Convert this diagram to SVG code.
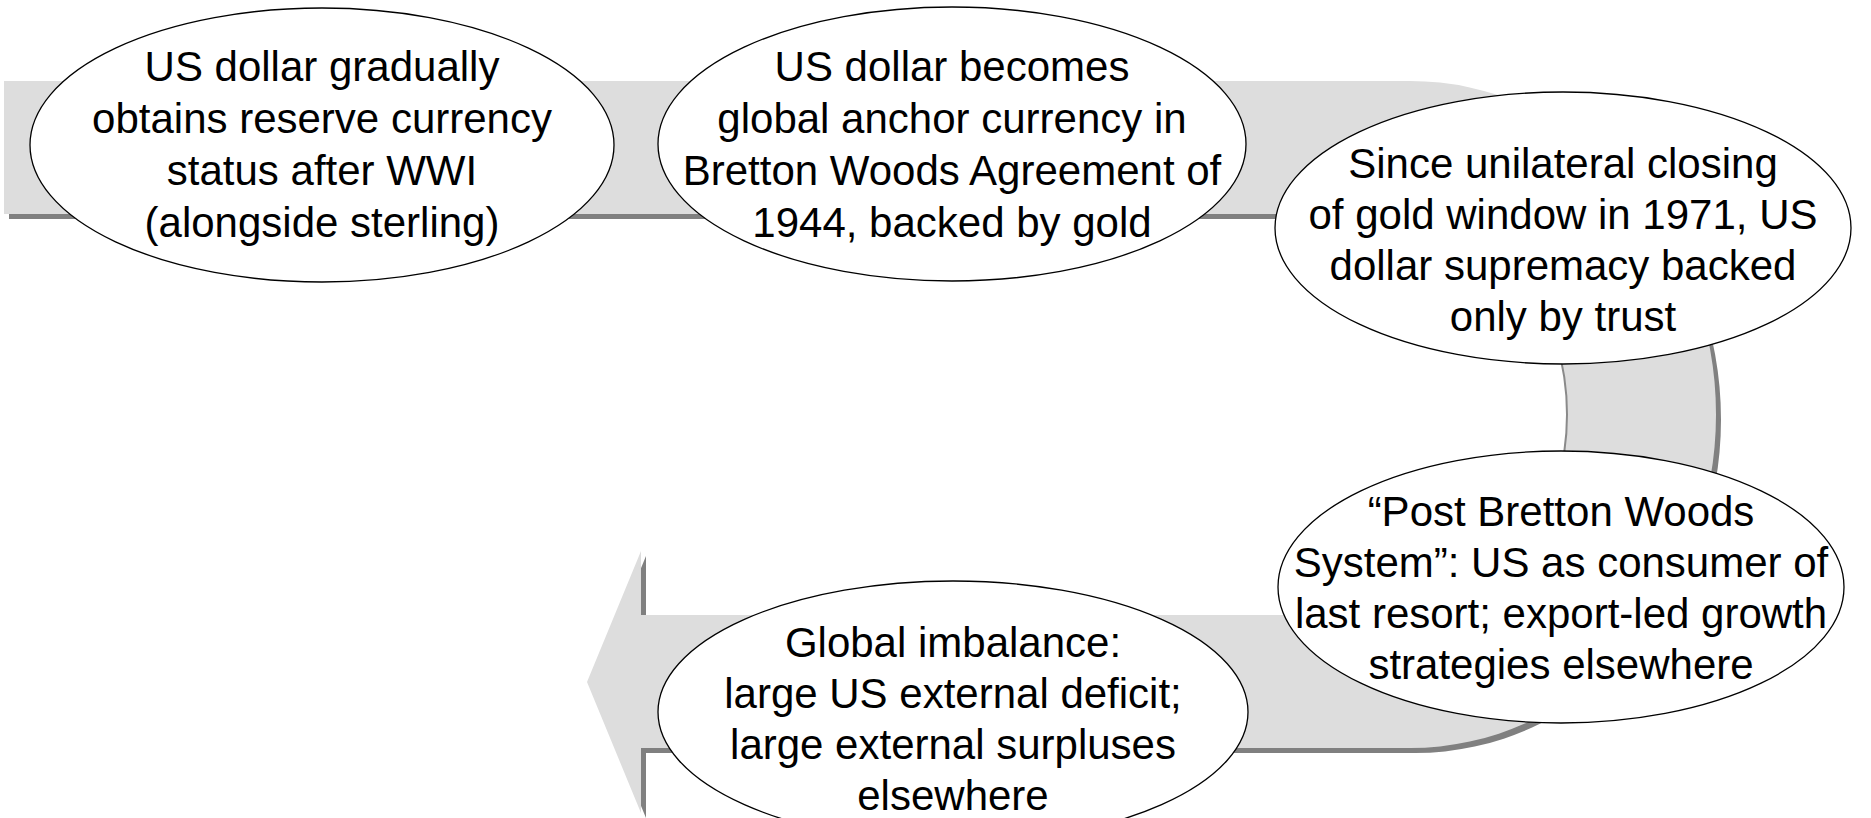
<svg xmlns="http://www.w3.org/2000/svg" width="1871" height="818" viewBox="0 0 1871 818">
<defs>
<style>
.band{fill:#DDDDDD;stroke:none}
.shadow{fill:#808080;stroke:none}
.inner{fill:none;stroke:#8A8A8A;stroke-width:2}
.node ellipse{fill:#FFFFFF;stroke:#000000;stroke-width:1.3}
.node text{font-family:"Liberation Sans",Arial,sans-serif;font-size:42px;fill:#000000;text-anchor:middle}
</style>
<path id="uband" d="M4,81 H1410 A306,333.5 0 0 1 1410,748 H641 V813 L587,682 L641,551 V615 H1410 A157,200.5 0 0 0 1410,214 H4 Z"/>
</defs>
<rect width="1871" height="818" fill="#FFFFFF"/>
<g id="connectors">
<use href="#uband" class="shadow" transform="translate(5,5)"/>
<use href="#uband" class="band"/>
<path class="inner" d="M1410,615 A157,200.5 0 0 0 1410,214"/>
</g>
<g id="node1" class="node">
<ellipse cx="322" cy="145" rx="292" ry="137"/>
<text x="322" y="81">US dollar gradually</text>
<text x="322" y="133">obtains reserve currency</text>
<text x="322" y="185">status after WWI</text>
<text x="322" y="237">(alongside sterling)</text>
</g>
<g id="node2" class="node">
<ellipse cx="952" cy="144" rx="294" ry="137"/>
<text x="952" y="81">US dollar becomes</text>
<text x="952" y="133">global anchor currency in</text>
<text x="952" y="185">Bretton Woods Agreement of</text>
<text x="952" y="237">1944, backed by gold</text>
</g>
<g id="node3" class="node">
<ellipse cx="1563" cy="228" rx="288" ry="136"/>
<text x="1563" y="178">Since unilateral closing</text>
<text x="1563" y="229">of gold window in 1971, US</text>
<text x="1563" y="280">dollar supremacy backed</text>
<text x="1563" y="331">only by trust</text>
</g>
<g id="node4" class="node">
<ellipse cx="1561" cy="587" rx="283" ry="136"/>
<text x="1561" y="526">“Post Bretton Woods</text>
<text x="1561" y="577">System”: US as consumer of</text>
<text x="1561" y="628">last resort; export-led growth</text>
<text x="1561" y="679">strategies elsewhere</text>
</g>
<g id="node5" class="node">
<ellipse cx="953" cy="712" rx="295" ry="131"/>
<text x="953" y="657">Global imbalance:</text>
<text x="953" y="708">large US external deficit;</text>
<text x="953" y="759">large external surpluses</text>
<text x="953" y="810">elsewhere</text>
</g>
</svg>
